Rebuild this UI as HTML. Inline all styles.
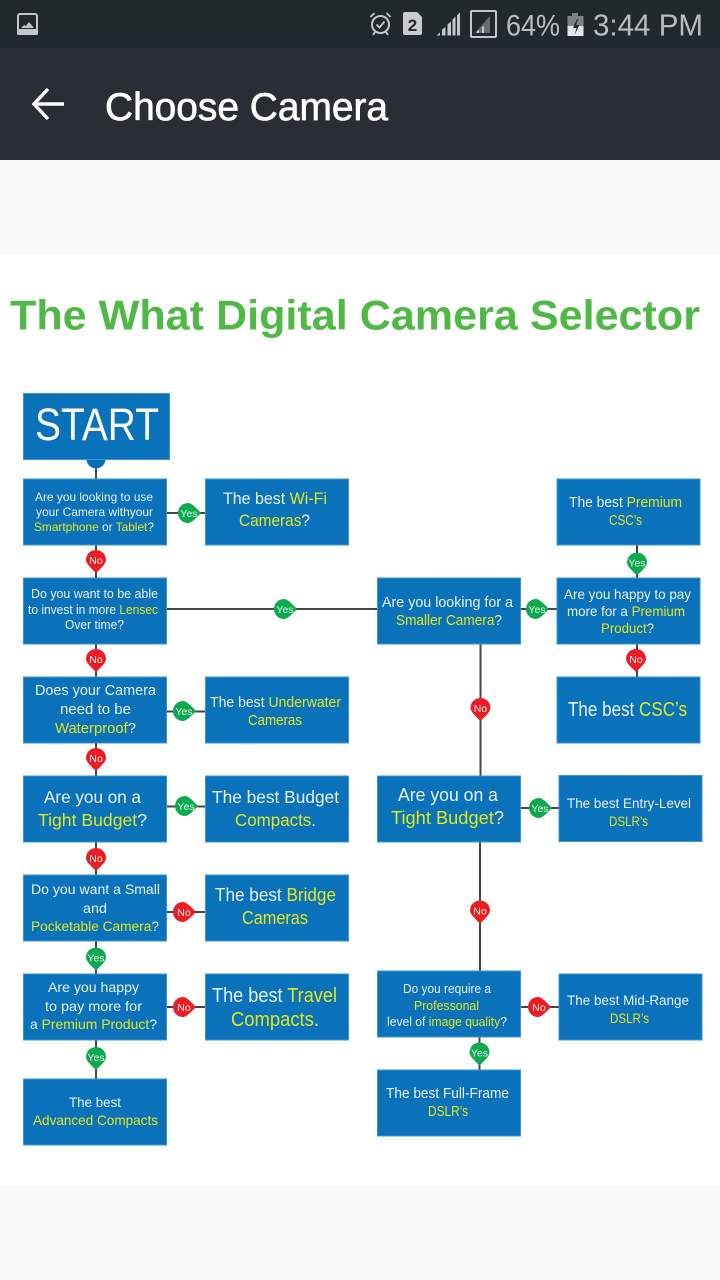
<!DOCTYPE html>
<html><head><meta charset="utf-8"><title>Choose Camera</title>
<style>
html,body{margin:0;padding:0;width:720px;height:1280px;overflow:hidden;background:#fafafa}
svg{display:block;position:absolute;left:0;top:0}
.d{filter:blur(.35px)}
.t text{font-family:"Liberation Sans",sans-serif;fill:#e9f3fb}
.t tspan{fill:#e2e81c}
.p text{font-family:"Liberation Sans",sans-serif;fill:#e8f5ec;font-size:10.5px;text-anchor:middle}
</style></head>
<body>
<svg width="720" height="1280" viewBox="0 0 720 1280" xmlns="http://www.w3.org/2000/svg">
<rect width="720" height="1280" fill="#fafafa"/>
<rect y="255" width="720" height="930" fill="#ffffff"/>
<rect width="720" height="48" fill="#21292d"/>
<rect y="48" width="720" height="112" fill="#282e33"/>

<!-- status bar -->
<rect x="18" y="14" width="19" height="20" rx="2" fill="none" stroke="#c4c6c7" stroke-width="2"/>
<rect x="17" y="29" width="21" height="6" rx="1.5" fill="#c4c6c7"/>
<path d="M21 28l3-3 2 1 3-4 5 6z" fill="#c4c6c7"/>
<circle cx="380.500" cy="24.500" r="8.500" fill="none" stroke="#c4c6c7" stroke-width="2"/>
<path d="M376.500 24.500l3 3 5-6M370.500 17l4-4M390.500 17l-4-4M373 35l2-3M388 35l-2-3" fill="none" stroke="#c4c6c7" stroke-width="1.800"/>
<path d="M405 12h12l5 5v16a2 2 0 0 1-2 2h-15a2 2 0 0 1-2-2v-19a2 2 0 0 1 2-2z" fill="#c9cbcc"/>
<text x="412.500" y="31" font-family="Liberation Sans,sans-serif" font-weight="bold" font-size="17" fill="#21292d" text-anchor="middle">2</text>
<path d="M436.500 35.500l3.500-3v3zM442 35.500v-6l3.500-2.500v8.500zM447.500 35.500v-11l3.500-3v14zM452.500 35.500v-16l3-3v19zM457 35.500v-20l3-3v23z" fill="#c4c6c7"/>
<rect x="471" y="11" width="25" height="26" rx="1" fill="none" stroke="#c4c6c7" stroke-width="2"/>
<path d="M490 16v17h-15z" fill="#686d70"/>
<path d="M477 33v-2l2-1v3zM482 33v-6l2-1v7z" fill="#c4c6c7"/>
<text x="506" y="35.500" font-family="Liberation Sans,sans-serif" font-size="30" fill="#b9bdbf" textLength="54" lengthAdjust="spacingAndGlyphs">64%</text>
<rect x="572" y="13" width="6" height="4" fill="#7d8183"/>
<rect x="567.500" y="16" width="16" height="20" fill="#7d8183"/>
<rect x="567.500" y="26" width="16" height="10" fill="#e6e7e7"/>
<path d="M577 19l-4 9h3.500l-2 7 5-10h-3.500l2-6z" fill="#21292d"/>
<text x="593" y="35.500" font-family="Liberation Sans,sans-serif" font-size="30.500" fill="#b9bdbf" textLength="110" lengthAdjust="spacingAndGlyphs">3:44 PM</text>

<!-- app bar -->
<path d="M64 104H35M48 89L34 104L48 119" fill="none" stroke="#fff" stroke-width="3.400"/>
<text x="105" y="120" font-family="Liberation Sans,sans-serif" font-size="39" fill="#fff" stroke="#fff" stroke-width=".7" textLength="283" lengthAdjust="spacingAndGlyphs">Choose Camera</text>

<g class="d">
<!-- title -->
<text x="10" y="329.500" font-family="Liberation Sans,sans-serif" font-weight="bold" font-size="42" fill="#50b946" textLength="690" lengthAdjust="spacingAndGlyphs">The What Digital Camera Selector</text>

<!-- connectors -->
<g stroke="#464646" stroke-width="2" fill="none">
<path d="M96 455V1079M166 513H205M166 609H377M166 711.500H205M166 806.500H205M166 912H205M166 1007H205"/>
<path d="M480.500 644V776M480 842V971M479.500 1037V1070M520 609H557M520 808H559M520 1007H559M637 545V578M637 644V677"/>
</g>
<circle cx="96" cy="459" r="9.500" fill="#0a70bb"/>

<!-- boxes -->
<g fill="#0a71bb" stroke="#3d94d4" stroke-width="1">
<rect x="23.500" y="393.500" width="146" height="66"/>
<rect x="23.500" y="479" width="143" height="66"/>
<rect x="205.500" y="479" width="143" height="66"/>
<rect x="23.500" y="578" width="143" height="66"/>
<rect x="23.500" y="677" width="143" height="66"/>
<rect x="205.500" y="677" width="143" height="66"/>
<rect x="23.500" y="776" width="143" height="66"/>
<rect x="205.500" y="776" width="143" height="66"/>
<rect x="23.500" y="875" width="143" height="66"/>
<rect x="205.500" y="875" width="143" height="66"/>
<rect x="23.500" y="974" width="143" height="66"/>
<rect x="205.500" y="974" width="143" height="66"/>
<rect x="23.500" y="1079" width="143" height="66"/>
<rect x="377.500" y="578" width="143" height="66"/>
<rect x="557" y="479" width="143" height="66"/>
<rect x="557" y="578" width="143" height="66"/>
<rect x="557" y="677" width="143" height="66"/>
<rect x="377.500" y="776" width="143" height="66"/>
<rect x="559" y="775.500" width="143" height="66"/>
<rect x="377.500" y="971" width="143" height="66"/>
<rect x="559" y="974" width="143" height="66"/>
<rect x="377.500" y="1070" width="143" height="66"/>
</g>

<!-- box text -->
<g class="t">
<text x="35" y="440" font-size="45" textLength="124" lengthAdjust="spacingAndGlyphs" style="fill:#fff">START</text>

<text x="35" y="501" font-size="12" textLength="118" lengthAdjust="spacingAndGlyphs">Are you looking to use</text>
<text x="36" y="516" font-size="12" textLength="117" lengthAdjust="spacingAndGlyphs">your Camera withyour</text>
<text x="34" y="531" font-size="12" textLength="120" lengthAdjust="spacingAndGlyphs"><tspan>Smartphone</tspan> or <tspan>Tablet</tspan>?</text>

<text x="223" y="504" font-size="17" textLength="104" lengthAdjust="spacingAndGlyphs">The best <tspan>Wi-Fi</tspan></text>
<text x="239" y="526" font-size="17" textLength="71" lengthAdjust="spacingAndGlyphs"><tspan>Cameras</tspan>?</text>

<text x="31" y="598" font-size="12.500" textLength="127" lengthAdjust="spacingAndGlyphs">Do you want to be able</text>
<text x="28" y="614" font-size="12.500" textLength="130" lengthAdjust="spacingAndGlyphs">to invest in more <tspan>Lensec</tspan></text>
<text x="65" y="629" font-size="12.500" textLength="59" lengthAdjust="spacingAndGlyphs">Over time?</text>

<text x="35" y="695" font-size="15" textLength="121" lengthAdjust="spacingAndGlyphs">Does your Camera</text>
<text x="60" y="714" font-size="15" textLength="71" lengthAdjust="spacingAndGlyphs">need to be</text>
<text x="55" y="733" font-size="15" textLength="81" lengthAdjust="spacingAndGlyphs"><tspan>Waterproof</tspan>?</text>

<text x="210" y="707" font-size="14.500" textLength="131" lengthAdjust="spacingAndGlyphs">The best <tspan>Underwater</tspan></text>
<text x="248" y="725" font-size="14.500" textLength="54" lengthAdjust="spacingAndGlyphs"><tspan>Cameras</tspan></text>

<text x="44" y="803" font-size="17.500" textLength="97" lengthAdjust="spacingAndGlyphs">Are you on a</text>
<text x="38" y="826" font-size="17.500" textLength="109" lengthAdjust="spacingAndGlyphs"><tspan>Tight Budget</tspan>?</text>

<text x="212" y="803" font-size="17.500" textLength="127" lengthAdjust="spacingAndGlyphs">The best Budget</text>
<text x="235" y="826" font-size="17.500" textLength="81" lengthAdjust="spacingAndGlyphs"><tspan>Compacts</tspan>.</text>

<text x="31" y="894" font-size="14" textLength="129" lengthAdjust="spacingAndGlyphs">Do you want a Small</text>
<text x="83" y="913" font-size="14" textLength="24" lengthAdjust="spacingAndGlyphs">and</text>
<text x="31" y="931" font-size="14" textLength="128" lengthAdjust="spacingAndGlyphs"><tspan>Pocketable Camera</tspan>?</text>

<text x="215" y="901" font-size="18" textLength="121" lengthAdjust="spacingAndGlyphs">The best <tspan>Bridge</tspan></text>
<text x="242" y="924" font-size="18" textLength="66" lengthAdjust="spacingAndGlyphs"><tspan>Cameras</tspan></text>

<text x="48" y="992" font-size="14" textLength="91" lengthAdjust="spacingAndGlyphs">Are you happy</text>
<text x="45" y="1011" font-size="14" textLength="97" lengthAdjust="spacingAndGlyphs">to pay more for</text>
<text x="30" y="1029" font-size="14" textLength="127" lengthAdjust="spacingAndGlyphs">a <tspan>Premium Product</tspan>?</text>

<text x="212" y="1002" font-size="20" textLength="125" lengthAdjust="spacingAndGlyphs">The best <tspan>Travel</tspan></text>
<text x="231" y="1026" font-size="20" textLength="88" lengthAdjust="spacingAndGlyphs"><tspan>Compacts</tspan>.</text>

<text x="69" y="1107" font-size="14" textLength="52" lengthAdjust="spacingAndGlyphs">The best</text>
<text x="33" y="1125" font-size="14" textLength="125" lengthAdjust="spacingAndGlyphs"><tspan>Advanced Compacts</tspan></text>

<text x="569" y="507" font-size="14.500" textLength="113" lengthAdjust="spacingAndGlyphs">The best <tspan>Premium</tspan></text>
<text x="609" y="525" font-size="14.500" textLength="33" lengthAdjust="spacingAndGlyphs"><tspan>CSC’s</tspan></text>

<text x="382" y="607" font-size="14.500" textLength="131" lengthAdjust="spacingAndGlyphs">Are you looking for a</text>
<text x="396" y="625" font-size="14.500" textLength="106" lengthAdjust="spacingAndGlyphs"><tspan>Smaller Camera</tspan>?</text>

<text x="564" y="599" font-size="14" textLength="127" lengthAdjust="spacingAndGlyphs">Are you happy to pay</text>
<text x="567" y="616" font-size="14" textLength="118" lengthAdjust="spacingAndGlyphs">more for a <tspan>Premium</tspan></text>
<text x="601" y="633" font-size="14" textLength="53" lengthAdjust="spacingAndGlyphs"><tspan>Product</tspan>?</text>

<text x="568" y="716" font-size="20" textLength="119" lengthAdjust="spacingAndGlyphs">The best <tspan>CSC’s</tspan></text>

<text x="398" y="801" font-size="18" textLength="100" lengthAdjust="spacingAndGlyphs">Are you on a</text>
<text x="391" y="824" font-size="18" textLength="113" lengthAdjust="spacingAndGlyphs"><tspan>Tight Budget</tspan>?</text>

<text x="567" y="808" font-size="13.500" textLength="124" lengthAdjust="spacingAndGlyphs">The best Entry-Level</text>
<text x="609" y="826" font-size="13.500" textLength="39" lengthAdjust="spacingAndGlyphs"><tspan>DSLR’s</tspan></text>

<text x="403" y="993" font-size="12.500" textLength="88" lengthAdjust="spacingAndGlyphs">Do you require a</text>
<text x="414" y="1010" font-size="12.500" textLength="65" lengthAdjust="spacingAndGlyphs"><tspan>Professonal</tspan></text>
<text x="387" y="1026" font-size="12.500" textLength="120" lengthAdjust="spacingAndGlyphs">level of <tspan>image quality</tspan>?</text>

<text x="567" y="1005" font-size="14" textLength="122" lengthAdjust="spacingAndGlyphs">The best Mid-Range</text>
<text x="610" y="1023" font-size="14" textLength="39" lengthAdjust="spacingAndGlyphs"><tspan>DSLR’s</tspan></text>

<text x="386" y="1098" font-size="14.500" textLength="123" lengthAdjust="spacingAndGlyphs">The best Full-Frame</text>
<text x="428" y="1116" font-size="14.500" textLength="40" lengthAdjust="spacingAndGlyphs"><tspan>DSLR’s</tspan></text>
</g>

<!-- pins -->
<g class="p">
<g fill="#ed1c24">
<path d="M86 560a10 10 0 1 1 20 0c0 4-6 9-10 13c-4-4-10-9-10-13z"/>
<path d="M86 659a10 10 0 1 1 20 0c0 4-6 9-10 13c-4-4-10-9-10-13z"/>
<path d="M86 758a10 10 0 1 1 20 0c0 4-6 9-10 13c-4-4-10-9-10-13z"/>
<path d="M86 858a10 10 0 1 1 20 0c0 4-6 9-10 13c-4-4-10-9-10-13z"/>
<path d="M470.500 708a10 10 0 1 1 20 0c0 4-6 9-10 13c-4-4-10-9-10-13z"/>
<path d="M470 910.500a10 10 0 1 1 20 0c0 4-6 9-10 13c-4-4-10-9-10-13z"/>
<path d="M626 659a10 10 0 1 1 20 0c0 4-6 9-10 13c-4-4-10-9-10-13z"/>
<path d="M173 912a10 10 0 0 1 10-10c4 0 9 6 13 10c-4 4-9 10-13 10a10 10 0 0 1-10-10z"/>
<path d="M173 1007a10 10 0 0 1 10-10c4 0 9 6 13 10c-4 4-9 10-13 10a10 10 0 0 1-10-10z"/>
<path d="M528 1007a10 10 0 0 1 10-10c4 0 9 6 13 10c-4 4-9 10-13 10a10 10 0 0 1-10-10z"/>
</g>
<g fill="#0ca94e">
<path d="M86 957.500a10 10 0 1 1 20 0c0 4-6 9-10 13c-4-4-10-9-10-13z"/>
<path d="M86 1057a10 10 0 1 1 20 0c0 4-6 9-10 13c-4-4-10-9-10-13z"/>
<path d="M469.500 1052.500a10 10 0 1 1 20 0c0 4-6 9-10 13c-4-4-10-9-10-13z"/>
<path d="M627 562.500a10 10 0 1 1 20 0c0 4-6 9-10 13c-4-4-10-9-10-13z"/>
<path d="M178 513a10 10 0 0 1 10-10c4 0 9 6 13 10c-4 4-9 10-13 10a10 10 0 0 1-10-10z"/>
<path d="M274 609a10 10 0 0 1 10-10c4 0 9 6 13 10c-4 4-9 10-13 10a10 10 0 0 1-10-10z"/>
<path d="M173 711a10 10 0 0 1 10-10c4 0 9 6 13 10c-4 4-9 10-13 10a10 10 0 0 1-10-10z"/>
<path d="M175 806a10 10 0 0 1 10-10c4 0 9 6 13 10c-4 4-9 10-13 10a10 10 0 0 1-10-10z"/>
<path d="M526 609a10 10 0 0 1 10-10c4 0 9 6 13 10c-4 4-9 10-13 10a10 10 0 0 1-10-10z"/>
<path d="M529 808a10 10 0 0 1 10-10c4 0 9 6 13 10c-4 4-9 10-13 10a10 10 0 0 1-10-10z"/>
</g>
<text x="96" y="564">No</text>
<text x="96" y="663">No</text>
<text x="96" y="762">No</text>
<text x="96" y="862">No</text>
<text x="480.500" y="712">No</text>
<text x="480" y="914.500">No</text>
<text x="636" y="663">No</text>
<text x="184" y="916">No</text>
<text x="184" y="1011">No</text>
<text x="539" y="1011">No</text>
<text x="96" y="961.500">Yes</text>
<text x="96" y="1061">Yes</text>
<text x="479.500" y="1056.500">Yes</text>
<text x="637" y="566.500">Yes</text>
<text x="189" y="517">Yes</text>
<text x="285" y="613">Yes</text>
<text x="184" y="715">Yes</text>
<text x="186" y="810">Yes</text>
<text x="537" y="613">Yes</text>
<text x="540" y="812">Yes</text>
</g>
</g>
</svg>
</body></html>
